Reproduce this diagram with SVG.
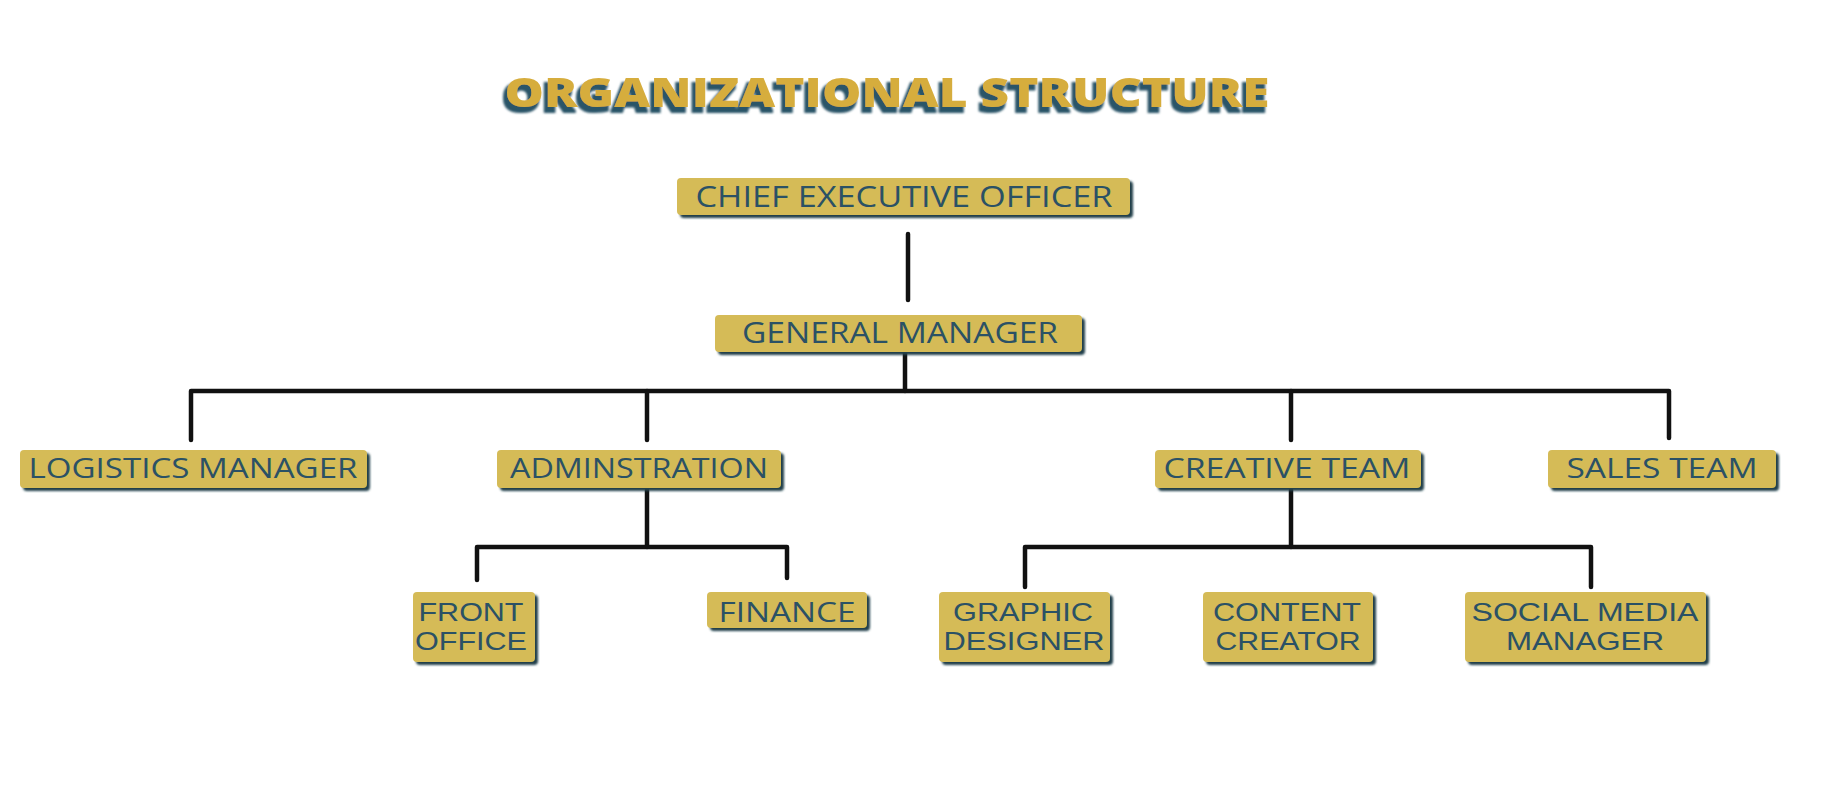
<svg xmlns="http://www.w3.org/2000/svg" width="1831" height="802" viewBox="0 0 1831 802">
<style>
.box{fill:#d5bb57}
.sh{fill:#233f4b}
.lbl{font-family:"Open Sans","Liberation Sans",sans-serif;font-size:28px;fill:#2b5165;text-anchor:middle}
.two{font-family:"Liberation Sans","Open Sans",sans-serif;font-size:25.5px}
.big{font-size:30px}
.con{stroke:#111;stroke-width:4.5;fill:none;stroke-linecap:round;stroke-linejoin:round}
.ttl{font-family:"Open Sans","Liberation Sans",sans-serif;font-weight:800;font-size:41px;text-anchor:middle;fill:#d6ad3e}
</style>
<defs>
<filter id="soft" x="-5%" y="-20%" width="110%" height="140%"><feGaussianBlur stdDeviation="0.8"/></filter>
<filter id="tshadow" x="-5%" y="-30%" width="110%" height="170%">
<feMorphology in="SourceAlpha" operator="dilate" radius="1.2" result="d"/>
<feOffset in="d" dx="-3" dy="5" result="o"/>
<feGaussianBlur in="o" stdDeviation="0.8" result="b"/>
<feFlood flood-color="#2a5468"/>
<feComposite in2="b" operator="in" result="s"/>
<feMerge><feMergeNode in="s"/><feMergeNode in="SourceGraphic"/></feMerge>
</filter>
</defs>
<rect width="1831" height="802" fill="#fff"/>
<g id="title">
<text class="ttl" x="887" y="107" textLength="765" lengthAdjust="spacingAndGlyphs" filter="url(#tshadow)">ORGANIZATIONAL STRUCTURE</text>
</g>
<g id="connectors">
<path class="con" d="M908 234 V300"/>
<path class="con" d="M905 353 V391"/>
<path class="con" d="M191 440 V391 H1669 V438"/>
<path class="con" d="M647 391 V440"/>
<path class="con" d="M1291 391 V440"/>
<path class="con" d="M647 490 V547"/>
<path class="con" d="M477 580 V547 H787 V578"/>
<path class="con" d="M1291 490 V547"/>
<path class="con" d="M1025 587 V547 H1591 V587"/>
</g>
<g id="ceo">
<rect class="sh" x="680" y="181" width="453" height="37" rx="4" filter="url(#soft)"/>
<rect class="box" x="677" y="178" width="453" height="37" rx="4"/>
<text class="lbl big" x="904" y="207" textLength="417" lengthAdjust="spacingAndGlyphs">CHIEF EXECUTIVE OFFICER</text>
</g>
<g id="gm">
<rect class="sh" x="718" y="318" width="367" height="37" rx="4" filter="url(#soft)"/>
<rect class="box" x="715" y="315" width="367" height="37" rx="4"/>
<text class="lbl big" x="900" y="343" textLength="316" lengthAdjust="spacingAndGlyphs">GENERAL MANAGER</text>
</g>
<g id="logistics">
<rect class="sh" x="23" y="453" width="347" height="38" rx="4" filter="url(#soft)"/>
<rect class="box" x="20" y="450" width="347" height="38" rx="4"/>
<text class="lbl" x="193" y="478" textLength="329" lengthAdjust="spacingAndGlyphs">LOGISTICS MANAGER</text>
</g>
<g id="admin">
<rect class="sh" x="500" y="453" width="284" height="38" rx="4" filter="url(#soft)"/>
<rect class="box" x="497" y="450" width="284" height="38" rx="4"/>
<text class="lbl" x="639" y="478" textLength="258" lengthAdjust="spacingAndGlyphs">ADMINSTRATION</text>
</g>
<g id="creative">
<rect class="sh" x="1158" y="453" width="266" height="38" rx="4" filter="url(#soft)"/>
<rect class="box" x="1155" y="450" width="266" height="38" rx="4"/>
<text class="lbl" x="1287" y="478" textLength="247" lengthAdjust="spacingAndGlyphs">CREATIVE TEAM</text>
</g>
<g id="sales">
<rect class="sh" x="1551" y="453" width="228" height="38" rx="4" filter="url(#soft)"/>
<rect class="box" x="1548" y="450" width="228" height="38" rx="4"/>
<text class="lbl" x="1662" y="478" textLength="191" lengthAdjust="spacingAndGlyphs">SALES TEAM</text>
</g>
<g id="frontoffice">
<rect class="sh" x="416" y="595" width="122" height="70" rx="4" filter="url(#soft)"/>
<rect class="box" x="413" y="592" width="122" height="70" rx="4"/>
<text class="lbl two" x="471" y="621" textLength="105" lengthAdjust="spacingAndGlyphs">FRONT</text>
<text class="lbl two" x="471" y="650" textLength="112" lengthAdjust="spacingAndGlyphs">OFFICE</text>
</g>
<g id="finance">
<rect class="sh" x="710" y="595" width="160" height="36" rx="4" filter="url(#soft)"/>
<rect class="box" x="707" y="592" width="160" height="36" rx="4"/>
<text class="lbl" x="787" y="622" textLength="137" lengthAdjust="spacingAndGlyphs">FINANCE</text>
</g>
<g id="graphic">
<rect class="sh" x="942" y="595" width="171" height="70" rx="4" filter="url(#soft)"/>
<rect class="box" x="939" y="592" width="171" height="70" rx="4"/>
<text class="lbl two" x="1023" y="621" textLength="140" lengthAdjust="spacingAndGlyphs">GRAPHIC</text>
<text class="lbl two" x="1024" y="650" textLength="161" lengthAdjust="spacingAndGlyphs">DESIGNER</text>
</g>
<g id="content">
<rect class="sh" x="1206" y="595" width="170" height="70" rx="4" filter="url(#soft)"/>
<rect class="box" x="1203" y="592" width="170" height="70" rx="4"/>
<text class="lbl two" x="1287" y="621" textLength="148" lengthAdjust="spacingAndGlyphs">CONTENT</text>
<text class="lbl two" x="1288" y="650" textLength="145" lengthAdjust="spacingAndGlyphs">CREATOR</text>
</g>
<g id="social">
<rect class="sh" x="1468" y="595" width="241" height="70" rx="4" filter="url(#soft)"/>
<rect class="box" x="1465" y="592" width="241" height="70" rx="4"/>
<text class="lbl two" x="1585" y="621" textLength="227" lengthAdjust="spacingAndGlyphs">SOCIAL MEDIA</text>
<text class="lbl two" x="1585" y="650" textLength="158" lengthAdjust="spacingAndGlyphs">MANAGER</text>
</g>
</svg>
